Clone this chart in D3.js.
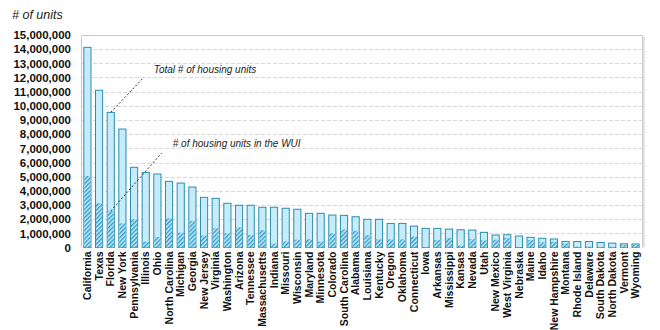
<!DOCTYPE html>
<html>
<head>
<meta charset="utf-8">
<script src="https://cdn.jsdelivr.net/npm/d3@7"></script>
<style>
  body { margin: 0; background: #fff; }
  svg { display: block; }
</style>
</head>
<body>
<script>

    var width = 660, height = 330;
    var plot = {left: 81, right: 642, top: 35, bottom: 247.5};

    // states, ordered by total housing units
    var states = ["California", "Texas", "Florida", "New York", "Pennsylvania", "Illinois", "Ohio",
        "North Carolina", "Michigan", "Georgia", "New Jersey", "Virginia", "Washington", "Arizona",
        "Tennessee", "Massachusetts", "Indiana", "Missouri", "Wisconsin", "Maryland", "Minnesota",
        "Colorado", "South Carolina", "Alabama", "Louisiana", "Kentucky", "Oregon", "Oklahoma",
        "Connecticut", "Iowa", "Arkansas", "Mississippi", "Kansas", "Nevada", "Utah", "New Mexico",
        "West Virginia", "Nebraska", "Maine", "Idaho", "New Hampshire", "Montana", "Rhode Island",
        "Delaware", "South Dakota", "North Dakota", "Vermont", "Wyoming"];

    // total # of housing units
    var totalUnits = [14130000, 11100000, 9540000, 8360000, 5660000, 5300000, 5190000,
        4670000, 4550000, 4270000, 3540000, 3470000, 3120000, 2980000,
        2980000, 2840000, 2840000, 2770000, 2700000, 2410000, 2410000,
        2290000, 2270000, 2170000, 1990000, 1990000, 1700000, 1700000,
        1510000, 1350000, 1350000, 1300000, 1250000, 1230000, 1070000, 880000,
        900000, 810000, 720000, 650000, 600000, 430000, 420000,
        420000, 350000, 310000, 260000, 250000];

    // # of housing units in the WUI
    var wuiUnits = [5050000, 3120000, 2580000, 1700000, 1990000, 410000, 740000,
        2060000, 1050000, 1890000, 840000, 1350000, 1000000, 1430000,
        880000, 1220000, 270000, 430000, 550000, 580000, 410000,
        1000000, 1280000, 1190000, 870000, 570000, 570000, 580000,
        770000, 30000, 530000, 680000, 140000, 600000, 500000, 550000,
        680000, 20000, 530000, 370000, 410000, 290000, 60000,
        60000, 50000, 50000, 180000, 170000];

    var yTicks = d3.range(0, 15000001, 1000000);

    var svg = d3.select("body")
    .append("svg")
    .attr("width", width)
    .attr("height", height);

    var defs = svg.append("defs");
    var pat = defs.append("pattern")
    .attr("id", "hatch")
    .attr("patternUnits", "userSpaceOnUse")
    .attr("width", 3)
    .attr("height", 3)
    .attr("patternTransform", "rotate(45)");
    pat.append("rect").attr("width", 3).attr("height", 3).attr("fill", "#c4ebf8");
    pat.append("rect").attr("width", 1.4).attr("height", 3).attr("fill", "#2f9ccb");

    var x = d3.scaleBand()
    .domain(states)
    .range([plot.left, plot.right])
    .paddingInner(0.3)
    .paddingOuter(0.2);

    var y = d3.scaleLinear()
    .domain([0, 15000000])
    .range([plot.bottom, plot.top]);

    // grid
    svg.append("g")
    .selectAll("line")
    .data(yTicks.slice(1, -1))
    .enter().append("line")
    .attr("x1", plot.left)
    .attr("x2", plot.right)
    .attr("y1", function(d) { return Math.round(y(d)) + 0.5; })
    .attr("y2", function(d) { return Math.round(y(d)) + 0.5; })
    .attr("stroke", "#d8d8d8")
    .attr("stroke-dasharray", "4,2");

    // frame (left, top, right)
    svg.append("path")
    .attr("d", "M" + (plot.left + 0.5) + "," + plot.bottom + "V" + (plot.top + 0.5) + "H" + (plot.right + 0.5) + "V" + plot.bottom)
    .attr("fill", "none")
    .attr("stroke", "#c8c8c8");
    svg.append("line")
    .attr("x1", plot.right + 2).attr("x2", plot.right + 2)
    .attr("y1", plot.top + 2).attr("y2", plot.bottom)
    .attr("stroke", "#e4e4e4").attr("stroke-width", 2);

    // y labels
    var yAxis = d3.axisLeft(y)
    .tickValues(yTicks)
    .tickSize(0)
    .tickPadding(10)
    .tickFormat(d3.format(","));

    var gy = svg.append("g")
    .attr("transform", "translate(" + (plot.left) + ",0)")
    .call(yAxis);
    gy.select(".domain").remove();
    gy.selectAll("text")
    .attr("font-family", "Liberation Sans, Arial, sans-serif")
    .attr("font-size", "11.5px")
    .attr("font-weight", "bold")
    .attr("fill", "#111");

    // bars
    var bars = svg.append("g").selectAll("g.bar")
    .data(states)
    .enter().append("g")
    .attr("class", "bar");

    bars.append("rect")
    .attr("x", function(d) { return x(d) + 0.5; })
    .attr("y", function(d, i) { return y(totalUnits[i]); })
    .attr("width", x.bandwidth() - 1)
    .attr("height", function(d, i) { return y(0) - y(totalUnits[i]); })
    .attr("fill", "#c6ecf9")
    .attr("stroke", "#2a8db3")
    .attr("stroke-width", 1);

    bars.append("rect")
    .attr("x", function(d) { return x(d) + 1; })
    .attr("y", function(d, i) { return y(wuiUnits[i]); })
    .attr("width", x.bandwidth() - 2)
    .attr("height", function(d, i) { return y(0) - y(wuiUnits[i]); })
    .attr("fill", "url(#hatch)");

    // x labels
    svg.append("g").selectAll("text")
    .data(states)
    .enter().append("text")
    .attr("transform", function(d) { return "translate(" + (x(d) + x.bandwidth() / 2) + "," + (plot.bottom + 4) + ") rotate(-90)"; })
    .attr("dy", "0.35em")
    .attr("text-anchor", "end")
    .attr("font-family", "Liberation Sans Narrow, Arial Narrow, Liberation Sans, sans-serif")
    .attr("font-size", "10.5px")
    .attr("font-weight", "bold")
    .attr("fill", "#111")
    .text(function(d) { return d; });

    // axis title
    svg.append("text")
    .attr("x", 12)
    .attr("y", 19)
    .attr("font-family", "Liberation Sans, Arial, sans-serif")
    .attr("font-size", "12.5px")
    .attr("font-style", "italic")
    .attr("fill", "#222")
    .text("# of units");

    // annotations pointing at Florida
    var fx = x("Florida") + x.bandwidth() / 2;
    var fi = states.indexOf("Florida");
    var notes = [
        {label: "Total # of housing units", px: fx, py: y(totalUnits[fi]), dx: 33, dy: -35, tx: 10, ty: -4},
        {label: "# of housing units in the WUI", px: fx, py: y(wuiUnits[fi]), dx: 51, dy: -58, tx: 11, ty: -6}
    ];

    var note = svg.append("g").selectAll("g")
    .data(notes)
    .enter().append("g");

    note.append("line")
    .attr("x1", function(d) { return d.px; })
    .attr("y1", function(d) { return d.py; })
    .attr("x2", function(d) { return d.px + d.dx; })
    .attr("y2", function(d) { return d.py + d.dy; })
    .attr("stroke", "#333")
    .attr("stroke-dasharray", "2,2");

    note.append("text")
    .attr("x", function(d) { return d.px + d.dx + d.tx; })
    .attr("y", function(d) { return d.py + d.dy + d.ty; })
    .attr("font-family", "Liberation Sans, Arial, sans-serif")
    .attr("font-size", "10px")
    .attr("font-style", "italic")
    .attr("fill", "#222")
    .text(function(d) { return d.label; });

</script>
</body>
</html>
